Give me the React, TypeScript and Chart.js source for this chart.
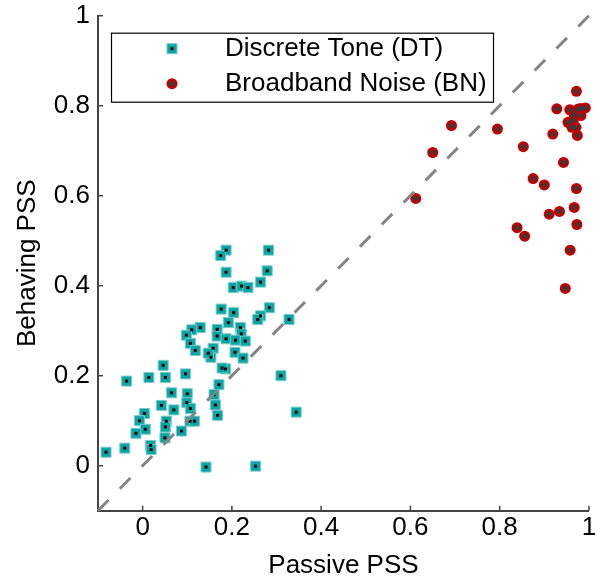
import React, { useEffect, useRef } from 'react';
import { Chart, registerables } from 'chart.js';

Chart.register(...registerables);

// ---- Data ----
const dtPassive = [
  0.187, 0.175, 0.282, 0.187, 0.279, 0.264, 0.203, 0.222, 0.236, 0.176,
  0.204, 0.284, 0.264, 0.258, 0.192, 0.328, 0.129, 0.110, 0.098, 0.167,
  0.167, 0.219, 0.221, 0.187, 0.208, 0.230, 0.107, 0.118, 0.158, 0.153,
  0.147, 0.207, 0.225, 0.046, 0.186, 0.178, 0.096, 0.051, 0.014, -0.036,
  0.310, 0.171, 0.065, 0.100, 0.160, 0.042, 0.070, 0.099, 0.107, 0.163,
  0.168, 0.344, 0.004, -0.007, 0.006, -0.015, 0.053, 0.051, 0.106, 0.116,
  0.087, 0.050, 0.018, 0.019, -0.040, -0.082, 0.142, 0.253,
];
const dtBehaving = [
  0.479, 0.467, 0.479, 0.430, 0.433, 0.408, 0.396, 0.399, 0.396, 0.348,
  0.340, 0.351, 0.333, 0.325, 0.318, 0.325, 0.307, 0.302, 0.290, 0.303,
  0.288, 0.307, 0.293, 0.282, 0.279, 0.277, 0.272, 0.256, 0.261, 0.241,
  0.250, 0.252, 0.239, 0.223, 0.215, 0.217, 0.204, 0.196, 0.196, 0.188,
  0.200, 0.180, 0.162, 0.160, 0.158, 0.134, 0.124, 0.140, 0.127, 0.135,
  0.112, 0.119, 0.116, 0.100, 0.081, 0.072, 0.099, 0.086, 0.099, 0.099,
  0.077, 0.062, 0.045, 0.036, 0.039, 0.030, -0.003, -0.001,
];
const bnPassive = [
  0.612, 0.650, 0.692, 0.795, 0.853, 0.875, 0.900, 0.943, 0.919, 0.928,
  0.972, 0.957, 0.975, 0.981, 0.992, 0.982, 0.967, 0.953, 0.965, 0.962,
  0.971, 0.974, 0.972, 0.967, 0.934, 0.911, 0.839, 0.856, 0.973, 0.958,
  0.947,
];
const bnBehaving = [
  0.594, 0.696, 0.756, 0.748, 0.709, 0.638, 0.624, 0.674, 0.737, 0.793,
  0.832, 0.791, 0.792, 0.794, 0.795, 0.778, 0.780, 0.763, 0.768, 0.752,
  0.752, 0.734, 0.616, 0.574, 0.565, 0.559, 0.529, 0.510, 0.536, 0.479,
  0.394,
];
const diagonal = [-0.1, 1];
const tickValues = [0, 0.2, 0.4, 0.6, 0.8, 1];
const tickLabels = ['0', '0.2', '0.4', '0.6', '0.8', '1'];
const legendLabels = ['Discrete Tone (DT)', 'Broadband Noise (BN)'];
const xTitle = 'Passive PSS';
const yTitle = 'Behaving PSS';

// ---- Styles ----
const FONT = '"Liberation Sans", Arial, Helvetica, sans-serif';
const AXIS = '#444444';
const TEAL = '#0ea3a3';
const TEAL_EDGE = '#74cccc';
const RED = '#c00000';
const DOT_DARK = '#3a3a3a';

function drawDT(ctx: CanvasRenderingContext2D, x: number, y: number) {
  ctx.fillStyle = TEAL;
  ctx.fillRect(x - 5, y - 5, 10, 10);
  ctx.strokeStyle = TEAL_EDGE;
  ctx.lineWidth = 1;
  ctx.strokeRect(x - 5, y - 5, 10, 10);
  ctx.fillStyle = '#000';
  ctx.fillRect(x - 1.5, y - 1.5, 3, 3);
}
function drawBN(ctx: CanvasRenderingContext2D, x: number, y: number) {
  ctx.fillStyle = RED;
  ctx.beginPath();
  ctx.arc(x, y, 5.5, 0, Math.PI * 2);
  ctx.fill();
  ctx.fillStyle = DOT_DARK;
  ctx.beginPath();
  ctx.arc(x, y, 2.6, 0, Math.PI * 2);
  ctx.fill();
}

const overlayPlugin = {
  id: 'overlayPlugin',
  afterDraw(chart: any) {
    const { ctx, chartArea, scales } = chart;
    ctx.save();
    // inward tick marks
    ctx.strokeStyle = AXIS;
    ctx.lineWidth = 1.5;
    scales.x.ticks.forEach((t: any) => {
      const px = scales.x.getPixelForValue(t.value);
      ctx.beginPath();
      ctx.moveTo(px, chartArea.bottom);
      ctx.lineTo(px, chartArea.bottom - 5);
      ctx.stroke();
    });
    scales.y.ticks.forEach((t: any) => {
      const py = scales.y.getPixelForValue(t.value);
      ctx.beginPath();
      ctx.moveTo(chartArea.left, py);
      ctx.lineTo(chartArea.left + 5, py);
      ctx.stroke();
    });
    // legend
    const bx = chartArea.left + 13.5;
    const by = chartArea.top + 17.5;
    const bw = 382;
    const bh = 69;
    ctx.fillStyle = '#fff';
    ctx.fillRect(bx, by, bw, bh);
    ctx.strokeStyle = '#000';
    ctx.lineWidth = 1.2;
    ctx.strokeRect(bx, by, bw, bh);
    const rows = [by + 15.5, by + 50.5];
    drawDT(ctx, bx + 60.5, rows[0]);
    drawBN(ctx, bx + 60.5, rows[1]);
    ctx.fillStyle = '#000';
    ctx.font = `26px ${FONT}`;
    ctx.textBaseline = 'middle';
    ctx.textAlign = 'left';
    ctx.fillText(legendLabels[0], bx + 113.5, rows[0]);
    ctx.fillText(legendLabels[1], bx + 113.5, rows[1]);
    ctx.restore();
  },
};

export default function App() {
  const ref = useRef<HTMLCanvasElement | null>(null);

  useEffect(() => {
    if (!ref.current) return;
    const dtPts = dtPassive.map((x, i) => ({ x, y: dtBehaving[i] }));
    const bnPts = bnPassive.map((x, i) => ({ x, y: bnBehaving[i] }));
    const diagPts = diagonal.map((v) => ({ x: v, y: v }));

    const chart = new Chart(ref.current, {
      type: 'scatter',
      data: {
        datasets: [
          {
            type: 'line',
            label: 'unity',
            data: diagPts,
            borderColor: '#858585',
            borderWidth: 3,
            borderDash: [15, 16],
            pointRadius: 0,
            fill: false,
            order: 0,
            clip: false,
          } as any,
          {
            label: legendLabels[0] + ' center',
            data: dtPts,
            pointStyle: 'rect',
            pointRadius: 2.1,
            backgroundColor: '#000',
            borderWidth: 0,
            order: 1,
            clip: false,
          },
          {
            label: legendLabels[0],
            data: dtPts,
            pointStyle: 'rect',
            pointRadius: 7.07,
            backgroundColor: TEAL,
            borderColor: TEAL_EDGE,
            borderWidth: 1,
            order: 2,
            clip: false,
          },
          {
            label: legendLabels[1] + ' center',
            data: bnPts,
            pointStyle: 'circle',
            pointRadius: 2.6,
            backgroundColor: DOT_DARK,
            borderWidth: 0,
            order: 3,
            clip: false,
          },
          {
            label: legendLabels[1],
            data: bnPts,
            pointStyle: 'circle',
            pointRadius: 5.5,
            backgroundColor: RED,
            borderColor: RED,
            borderWidth: 0,
            order: 4,
            clip: false,
          },
        ],
      },
      options: {
        animation: false,
        responsive: false,
        devicePixelRatio: 1,
        events: [],
        layout: { padding: { top: 15.7, right: 4, left: 0, bottom: 0 } },
        plugins: {
          legend: { display: false },
          tooltip: { enabled: false },
        },
        scales: {
          x: {
            type: 'linear',
            min: -0.1,
            max: 1,
            afterBuildTicks: (s: any) => {
              s.ticks = tickValues.map((v) => ({ value: v }));
            },
            afterFit: (s: any) => {
              s.height = 71.3;
              s.paddingLeft = 0;
              s.paddingRight = 0;
              s.paddingTop = 0;
              s.paddingBottom = 0;
            },
            ticks: {
              callback: (_v: any, i: number) => tickLabels[i],
              font: { family: FONT, size: 26 },
              color: '#000',
              padding: 2,
              maxRotation: 0,
              autoSkip: false,
            },
            grid: { drawOnChartArea: false, drawTicks: false },
            border: { display: true, color: AXIS, width: 2 },
            title: {
              display: true,
              text: xTitle,
              font: { family: FONT, size: 26 },
              color: '#000',
              padding: { top: 0, bottom: 1 },
            },
          },
          y: {
            type: 'linear',
            min: -0.1,
            max: 1,
            afterBuildTicks: (s: any) => {
              s.ticks = tickValues.map((v) => ({ value: v }));
            },
            afterFit: (s: any) => {
              s.width = 98;
              s.paddingLeft = 0;
              s.paddingRight = 0;
              s.paddingTop = 0;
              s.paddingBottom = 0;
            },
            ticks: {
              callback: (_v: any, i: number) => tickLabels[i],
              font: { family: FONT, size: 26 },
              color: '#000',
              padding: 8,
              autoSkip: false,
            },
            grid: { drawOnChartArea: false, drawTicks: false },
            border: { display: true, color: AXIS, width: 2 },
            title: {
              display: true,
              text: yTitle,
              font: { family: FONT, size: 26 },
              color: '#000',
              padding: { top: 12, bottom: 0 },
            },
          },
        },
      },
      plugins: [overlayPlugin],
    });
    return () => chart.destroy();
  }, []);

  return (
    <div style={{ position: 'fixed', left: 0, top: 0, width: 597, height: 582, background: '#fff' }}>
      <canvas ref={ref} width={597} height={582} style={{ display: 'block' }} />
    </div>
  );
}
